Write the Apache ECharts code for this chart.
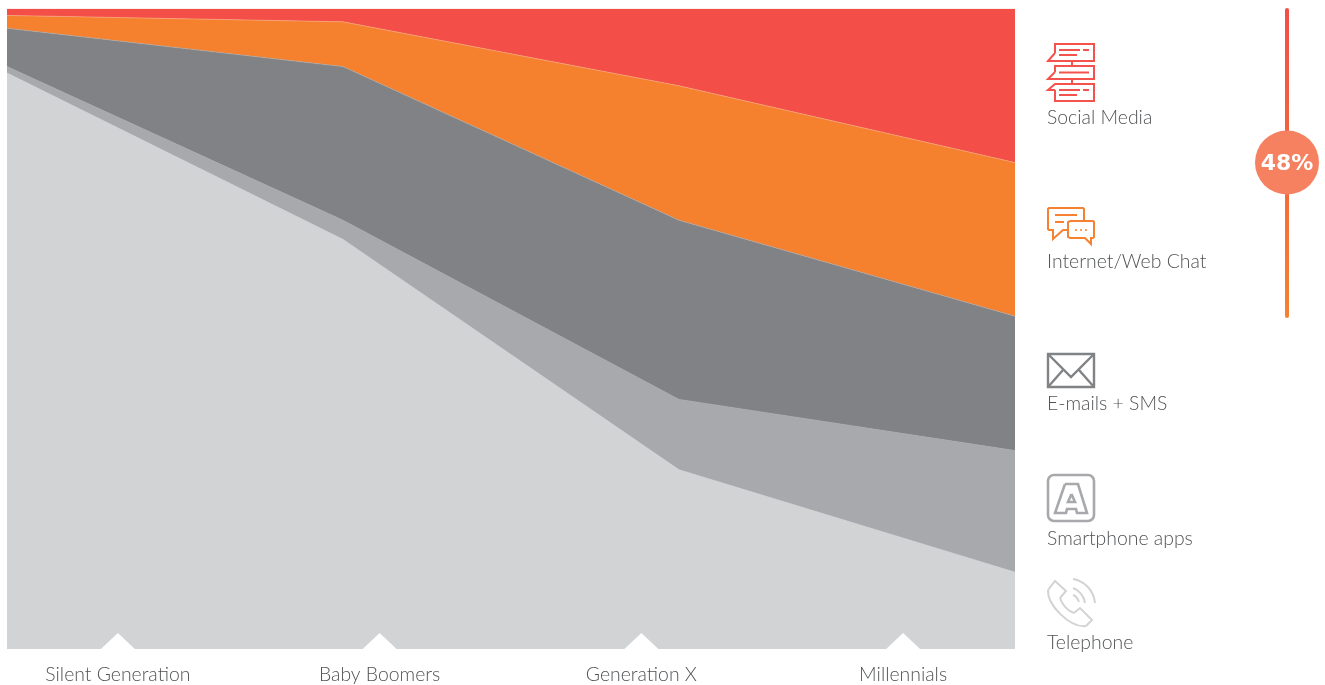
<!DOCTYPE html>
<html>
<head>
<meta charset="utf-8">
<title>Preferred contact channels by generation</title>
<style>html,body{margin:0;padding:0;background:#fff}#chart{width:1325px;height:685px}</style>
<script src="https://cdn.jsdelivr.net/npm/echarts@6/dist/echarts.min.js"></script>
</head>
<body>
<div id="chart"></div>
<script>
// Share of preferred contact channel per generation, in percent
const generations = ['Silent Generation', 'Baby Boomers', 'Generation X', 'Millennials'];
const telephone = [90, 64, 28, 12];
const smartphoneApps = [1, 3, 11, 19];
const emailsSms = [6, 24, 28, 21];
const webChat = [2, 7, 21, 24];
const socialMedia = [1, 2, 12, 24];
const digitalShareLabel = '48%';

const channelNames = ['Telephone', 'Smartphone apps', 'E-mails + SMS', 'Internet/Web Chat', 'Social Media'];
const channelValues = [telephone, smartphoneApps, emailsSms, webChat, socialMedia];
const channelColors = ['#d1d3d5', '#a7a9ac', '#808285', '#f5812f', '#f34e47'];
const channelEdges = ['#d1d3d5', '#a7a9ac', '#a9a6a6', '#f8a878', '#f34e47'];

const FONT = 'Lato';
const TEXT = '#505254';
const TEXT_SIZE = 19.4;

const areaSeries = channelNames.map((name, i) => ({
  name,
  type: 'line',
  stack: 'share',
  xAxisIndex: 0,
  yAxisIndex: 0,
  symbol: 'none',
  silent: true,
  lineStyle: { width: 0.7, color: channelEdges[i] },
  areaStyle: { color: channelColors[i], opacity: 1 },
  data: channelValues[i]
}));

// White notches that sit on the bottom edge above each generation label
const notchSeries = {
  type: 'scatter',
  xAxisIndex: 1,
  yAxisIndex: 1,
  symbol: 'path://M0,16 L17,0 L34,16 Z',
  symbolSize: [34, 16],
  symbolOffset: [0, -8],
  itemStyle: { color: '#fff', opacity: 1 },
  silent: true,
  z: 5,
  data: generations.map(g => [g, 0])
};

const stroked = (color, width) => ({ fill: 'none', stroke: color, lineWidth: width, lineJoin: 'miter', lineCap: 'butt' });
const poly = (points, color, width) => ({ type: 'polyline', shape: { points }, style: stroked(color, width) });
const seg = (x1, y1, x2, y2, color, width) => ({ type: 'line', shape: { x1, y1, x2, y2 }, style: stroked(color, width) });
const curve = (x1, y1, cpx1, cpy1, cpx2, cpy2, x2, y2, color, width) => ({
  type: 'bezierCurve', shape: { x1, y1, cpx1, cpy1, cpx2, cpy2, x2, y2 }, style: stroked(color, width)
});

function socialIcon(c) {
  const w = 2;
  return [
    poly([[1055, 53], [1055, 44], [1094, 44], [1094, 61], [1048, 61], [1055, 53]], c, w),
    seg(1059, 50, 1080, 50, c, w), seg(1083, 50, 1089, 50, c, w), seg(1059, 55, 1077, 55, c, w),
    seg(1072, 61, 1072, 66, c, w),
    poly([[1055, 72], [1055, 66], [1094, 66], [1094, 79], [1048, 79], [1055, 72]], c, w),
    seg(1059, 72.5, 1089, 72.5, c, w),
    seg(1072, 79, 1072, 84, c, w),
    poly([[1055, 90], [1048, 90], [1055, 84], [1094, 84], [1094, 101], [1055, 101], [1055, 90]], c, w),
    seg(1059, 90, 1080, 90, c, w), seg(1083, 90, 1089, 90, c, w), seg(1059, 95, 1077, 95, c, w)
  ];
}

function chatIcon(c) {
  const w = 2;
  return [
    poly([[1068, 230], [1063, 230], [1053, 239], [1053, 230], [1049, 230], [1048, 229], [1048, 209], [1049, 208], [1083, 208], [1084, 209], [1084, 221]], c, w),
    seg(1055, 215, 1077, 215, c, w), seg(1055, 222, 1064, 222, c, w),
    poly([[1070, 221], [1093, 221], [1094, 222], [1094, 237], [1093, 238], [1091, 238], [1091, 244], [1085, 238], [1070, 238], [1068, 237], [1068, 222], [1070, 221]], c, w),
    seg(1075, 230, 1077, 230, c, 1.4), seg(1080, 230, 1082, 230, c, 1.4), seg(1085, 230, 1087, 230, c, 1.4)
  ];
}

function mailIcon(c) {
  const w = 2.4;
  return [
    { type: 'rect', shape: { x: 1048, y: 354, width: 46, height: 33 }, style: stroked(c, w) },
    poly([[1048, 354], [1071, 377], [1094, 354]], c, w),
    seg(1048, 387, 1063, 370, c, w), seg(1094, 387, 1079, 370, c, w)
  ];
}

function appIcon(c) {
  const w = 2.6;
  return [
    { type: 'rect', shape: { x: 1048, y: 475, width: 46, height: 46, r: 6 }, style: stroked(c, w) },
    poly([[1065, 484], [1078, 484], [1087, 513], [1077, 513], [1076, 509], [1067, 509], [1066, 513], [1055, 513], [1065, 484]], c, w),
    poly([[1071.5, 494], [1075, 502], [1068, 502], [1071.5, 494]], c, w)
  ];
}

function phoneIcon(c) {
  const w = 2;
  return [
    poly([[1048, 590], [1055, 581], [1066, 591], [1060, 598]], c, w),
    curve(1060, 598, 1062, 605, 1068, 611, 1074, 613, c, w),
    poly([[1074, 613], [1080, 608], [1092, 620], [1086, 626]], c, w),
    curve(1086, 626, 1070, 628, 1047, 605, 1048, 590, c, w),
    curve(1073, 579, 1085, 581, 1094, 591, 1095, 603, c, w),
    curve(1073, 588, 1079, 590, 1084, 596, 1085, 603, c, w),
    curve(1073, 595, 1076, 596, 1078, 599, 1079, 602, c, w)
  ];
}

const channelLabelSpots = [643, 539, 404, 262, 118];

const channelLabels = channelNames.map((name, i) => ({
  type: 'text',
  x: 1047,
  y: channelLabelSpots[i],
  style: { text: name, fill: TEXT, font: '300 ' + TEXT_SIZE + 'px ' + FONT, textAlign: 'left', textVerticalAlign: 'middle' }
}));

const scaleBar = [
  {
    type: 'rect',
    shape: { x: 1285, y: 8, width: 4, height: 310, r: 2 },
    style: {
      fill: {
        type: 'linear', x: 0, y: 0, x2: 0, y2: 1,
        colorStops: [{ offset: 0, color: '#f34e47' }, { offset: 1, color: '#f5812f' }]
      }
    }
  },
  { type: 'circle', shape: { cx: 1287, cy: 162.5, r: 32 }, style: { fill: '#f58160' } },
  {
    type: 'text',
    x: 1287,
    y: 164,
    style: { text: digitalShareLabel, fill: '#fff', font: 'bold 22px "DejaVu Sans"', textAlign: 'center', textVerticalAlign: 'middle' }
  }
];

const chart = echarts.init(document.getElementById('chart'), null, { renderer: 'canvas' });
chart.setOption({
  animation: false,
  backgroundColor: '#fff',
  grid: [
    { left: 7, top: 9, width: 1008, height: 640, outerBoundsMode: 'none' },
    { left: -13, top: 9, width: 1047, height: 640, outerBoundsMode: 'none' }
  ],
  xAxis: [
    { type: 'category', gridIndex: 0, boundaryGap: false, data: generations, show: false },
    {
      type: 'category', gridIndex: 1, boundaryGap: true, data: generations,
      axisLine: { show: false }, axisTick: { show: false },
      axisLabel: { color: TEXT, fontFamily: FONT, fontWeight: 300, fontSize: TEXT_SIZE, margin: 16 }
    }
  ],
  yAxis: [
    { type: 'value', gridIndex: 0, min: 0, max: 100, show: false },
    { type: 'value', gridIndex: 1, min: 0, max: 1, show: false }
  ],
  series: [...areaSeries, notchSeries],
  graphic: {
    elements: [
      ...socialIcon('#f4524d'),
      ...chatIcon('#f68132'),
      ...mailIcon('#808285'),
      ...appIcon('#a7a9ac'),
      ...phoneIcon('#d1d3d5'),
      ...channelLabels,
      ...scaleBar
    ]
  }
});
</script>
</body>
</html>
